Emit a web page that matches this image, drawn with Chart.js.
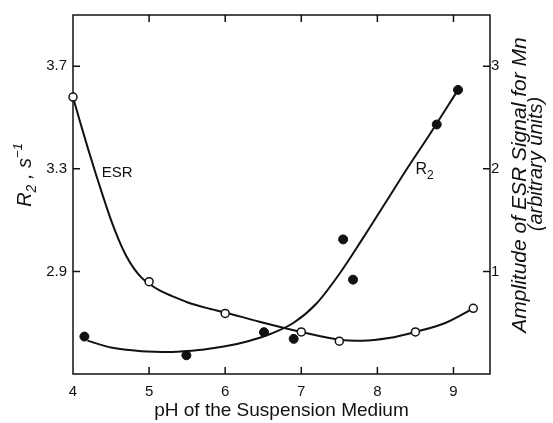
<!DOCTYPE html>
<html>
<head>
<meta charset="utf-8">
<script src="https://cdn.jsdelivr.net/npm/chart.js@4.4.0/dist/chart.umd.min.js"></script>
<style>
  html, body { margin: 0; padding: 0; background: #fff; }
  #wrap { width: 553px; height: 423px; }
</style>
</head>
<body>
<div id="wrap"><canvas id="chart"></canvas></div>
<script>
// tick labels
const phTicks = [4, 5, 6, 7, 8, 9];
const r2Ticks = [2.9, 3.3, 3.7];
const esrTicks = [1, 2, 3];

// measured points: R2 (filled, left axis)
const r2PointPH = [4.15, 5.49, 6.51, 6.90, 7.55, 7.68, 8.78, 9.06];
const r2PointVal = [2.646, 2.573, 2.663, 2.637, 3.025, 2.868, 3.473, 3.608];

// measured points: ESR amplitude (open, right axis)
const esrPointPH = [4.0, 5.0, 6.0, 7.0, 7.5, 8.5, 9.26];
const esrPointVal = [2.70, 0.90, 0.59, 0.41, 0.32, 0.41, 0.64];

// hand-drawn fitted curves
const r2CurvePH = [4.19, 4.5, 4.9, 5.3, 5.7, 6.0, 6.3, 6.6, 6.9, 7.2, 7.5, 7.8, 8.1, 8.4, 8.7, 9.06];
const r2CurveVal = [2.630, 2.603, 2.589, 2.586, 2.595, 2.608, 2.628, 2.657, 2.700, 2.775, 2.890, 3.025, 3.165, 3.305, 3.440, 3.608];

const esrCurvePH = [4.0, 4.1, 4.2, 4.3, 4.4, 4.5, 4.6, 4.7, 4.8, 4.9, 5.0, 5.15, 5.3, 5.5, 5.75, 6.0, 6.45, 7.0, 7.5, 7.8, 8.15, 8.5, 8.9, 9.26];
const esrCurveVal = [2.70, 2.44, 2.19, 1.95, 1.72, 1.50, 1.31, 1.15, 1.03, 0.94, 0.88, 0.81, 0.76, 0.70, 0.645, 0.60, 0.51, 0.41, 0.335, 0.325, 0.35, 0.41, 0.50, 0.64];

const FONT = '"Liberation Sans", Arial, sans-serif';
const INK = '#111';

const toXY = (xs, ys) => xs.map((x, i) => ({ x, y: ys[i] }));

// text runs with sub/superscripts, centred on the current origin
function drawRuns(ctx, runs, style) {
    let total = 0;
    runs.forEach(r => { ctx.font = `${style} ${r[1]}px ${FONT}`; total += ctx.measureText(r[0]).width; });
    let x = -total / 2;
    ctx.textAlign = 'left';
    ctx.textBaseline = 'alphabetic';
    runs.forEach(r => {
        ctx.font = `${style} ${r[1]}px ${FONT}`;
        ctx.fillText(r[0], x, r[2]);
        x += ctx.measureText(r[0]).width;
    });
}

const frameAndLabels = {
    id: 'frameAndLabels',
    beforeDatasetsDraw(chart) {
        const { ctx, chartArea: a, scales } = chart;
        ctx.save();
        ctx.strokeStyle = INK;
        ctx.lineWidth = 1.5;
        ctx.strokeRect(a.left, a.top, a.right - a.left, a.bottom - a.top);
        ctx.beginPath();
        // inward ticks, also mirrored on the top edge
        phTicks.forEach(v => {
            const x = scales.x.getPixelForValue(v);
            if (x <= a.left + 1) return;
            ctx.moveTo(x, a.bottom); ctx.lineTo(x, a.bottom - 7);
            ctx.moveTo(x, a.top); ctx.lineTo(x, a.top + 7);
        });
        r2Ticks.forEach(v => { const y = scales.y.getPixelForValue(v); ctx.moveTo(a.left, y); ctx.lineTo(a.left + 7, y); });
        esrTicks.forEach(v => { const y = scales.y1.getPixelForValue(v); ctx.moveTo(a.right, y); ctx.lineTo(a.right - 7, y); });
        ctx.stroke();
        ctx.restore();
    },
    afterDraw(chart) {
        const { ctx, scales } = chart;
        ctx.save();
        ctx.fillStyle = INK;
        // left axis title
        ctx.save();
        ctx.translate(31, 175);
        ctx.rotate(-Math.PI / 2);
        drawRuns(ctx, [['R', 20, 0], ['2', 14, 5], [' , s', 20, 0], ['\u22121', 13, -9]], 'italic');
        ctx.restore();
        // right axis title, two lines
        ctx.save();
        ctx.translate(526, 185);
        ctx.rotate(-Math.PI / 2);
        drawRuns(ctx, [['Amplitude of ESR Signal for Mn', 21, 0]], 'italic');
        ctx.restore();
        ctx.save();
        ctx.translate(542, 164);
        ctx.rotate(-Math.PI / 2);
        drawRuns(ctx, [['(arbitrary units)', 20, 0]], 'italic');
        ctx.restore();
        // curve labels
        ctx.font = `15px ${FONT}`;
        ctx.textAlign = 'center';
        ctx.textBaseline = 'middle';
        ctx.fillText('ESR', scales.x.getPixelForValue(4.58), scales.y.getPixelForValue(3.285));
        ctx.save();
        ctx.translate(scales.x.getPixelForValue(8.62), scales.y.getPixelForValue(3.28));
        drawRuns(ctx, [['R', 16, 0], ['2', 12, 5]], 'normal');
        ctx.restore();
        ctx.restore();
    }
};

const tickFont = { family: FONT, size: 15 };

new Chart(document.getElementById('chart'), {
    type: 'scatter',
    data: {
        datasets: [
            { label: 'ESR fit', data: toXY(esrCurvePH, esrCurveVal), yAxisID: 'y1', showLine: true, borderColor: INK, borderWidth: 2, pointRadius: 0, cubicInterpolationMode: 'monotone', order: 4 },
            { label: 'R2 fit', data: toXY(r2CurvePH, r2CurveVal), yAxisID: 'y', showLine: true, borderColor: INK, borderWidth: 2, pointRadius: 0, cubicInterpolationMode: 'monotone', order: 3 },
            { label: 'R2', data: toXY(r2PointPH, r2PointVal), yAxisID: 'y', pointRadius: 4.5, backgroundColor: INK, borderColor: INK, borderWidth: 1, order: 2, clip: false },
            { label: 'ESR', data: toXY(esrPointPH, esrPointVal), yAxisID: 'y1', pointRadius: 4, backgroundColor: '#fff', borderColor: INK, borderWidth: 1.5, order: 1, clip: false }
        ]
    },
    options: {
        responsive: true,
        maintainAspectRatio: false,
        animation: false,
        events: [],
        layout: { padding: { top: 13, left: 0, right: 0, bottom: 0 } },
        plugins: { legend: { display: false }, tooltip: { enabled: false } },
        scales: {
            x: {
                type: 'linear', position: 'bottom', min: 4, max: 9.48,
                grid: { display: false, drawTicks: false }, border: { display: false },
                ticks: { font: tickFont, color: INK, padding: 9, autoSkip: false, maxRotation: 0 },
                afterBuildTicks: s => { s.ticks = phTicks.map(v => ({ value: v })); },
                afterFit: s => { s.height = 49; },
                title: { display: true, text: 'pH of the Suspension Medium', color: INK, font: { family: FONT, size: 19 }, padding: { top: 0, bottom: 1 } }
            },
            y: {
                position: 'left', min: 2.5, max: 3.9,
                grid: { display: false, drawTicks: false }, border: { display: false },
                ticks: { font: tickFont, color: INK, padding: 6, callback: v => v.toFixed(1) },
                afterBuildTicks: s => { s.ticks = r2Ticks.map(v => ({ value: v })); },
                afterFit: s => { s.width = 73; }
            },
            y1: {
                position: 'right', min: 0, max: 3.5,
                grid: { display: false, drawTicks: false }, border: { display: false },
                ticks: { font: tickFont, color: INK, padding: 1, callback: v => String(v) },
                afterBuildTicks: s => { s.ticks = esrTicks.map(v => ({ value: v })); },
                afterFit: s => { s.width = 63; }
            }
        }
    },
    plugins: [frameAndLabels]
});
</script>
</body>
</html>
